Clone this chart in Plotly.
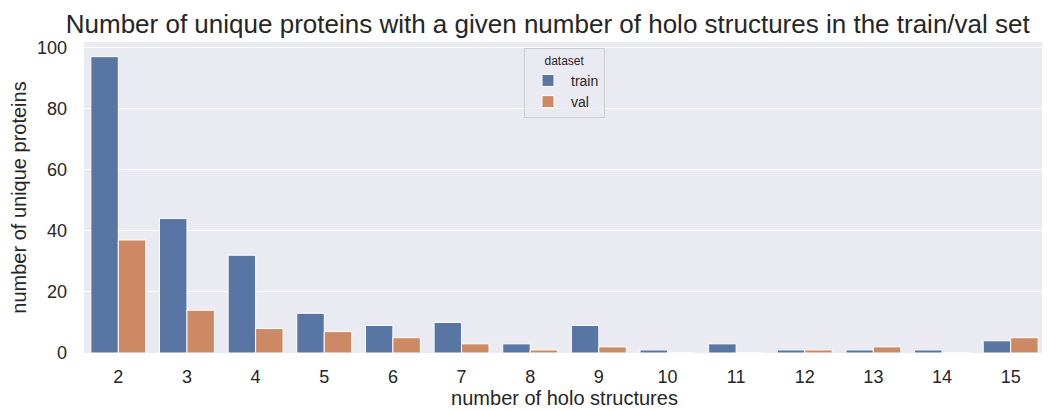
import plotly.graph_objects as go

holo_counts = [2, 3, 4, 5, 6, 7, 8, 9, 10, 11, 12, 13, 14, 15]
train_counts = [97, 44, 32, 13, 9, 10, 3, 9, 1, 3, 1, 1, 1, 4]
val_counts = [37, 14, 8, 7, 5, 3, 1, 2, 0, 0, 1, 2, 0, 5]

cats = [str(c) for c in holo_counts]

fig = go.Figure()
fig.add_trace(go.Bar(x=cats, y=train_counts, name="train", marker=dict(color="#5975A4", line=dict(color="white", width=1))))
fig.add_trace(go.Bar(x=cats, y=val_counts, name="val", marker=dict(color="#CC8963", line=dict(color="white", width=1))))

# page body has an 8px margin, so the figure is sized to end at the window edge
fig.update_layout(
    width=1042, height=403,
    barmode="group", bargap=0.2, bargroupgap=0,
    paper_bgcolor="white", plot_bgcolor="#EAEAF2",
    font=dict(family="Arial, Liberation Sans", size=17, color="#262626"),
    title=dict(text="Number of unique proteins with a given number of holo structures in the train/val set",
               x=0.518, xref="container", xanchor="center", y=0.96, yref="container", yanchor="middle", font=dict(size=26)),
    margin=dict(l=76, r=5, t=34, b=58, autoexpand=False),
    legend=dict(title=dict(text="dataset", side="top center", font=dict(size=12)), x=0.5, xanchor="center", y=0.98, yanchor="top",
                bgcolor="rgba(234,234,242,0.8)", bordercolor="#CCCCCC", borderwidth=1, font=dict(size=14),
                itemwidth=36),
    xaxis=dict(title=dict(text="number of holo structures", standoff=4), showgrid=False, ticks="", tickfont=dict(size=18),
               automargin=False, ticklabelstandoff=11),
    yaxis=dict(title=dict(text="number of unique proteins", standoff=14), range=[0, 101.8], tickvals=[0, 20, 40, 60, 80, 100],
               gridcolor="white", gridwidth=1, zeroline=False, ticks="", tickfont=dict(size=18),
               automargin=False, ticklabelstandoff=16),
)

fig.write_html("out.html")
